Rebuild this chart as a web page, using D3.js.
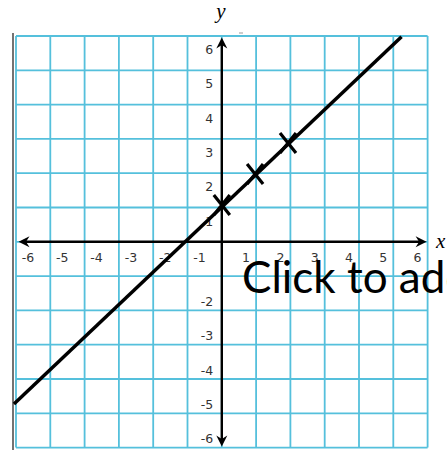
<!DOCTYPE html>
<html>
<head>
<meta charset="utf-8">
<script src="https://cdn.jsdelivr.net/npm/d3@7"></script>
<style>
  html, body { margin: 0; padding: 0; background: #fff; overflow: hidden; }
  svg { display: block; }
</style>
</head>
<body>
<svg id="chart" width="447" height="450"></svg>
<script>
// Grid values and tick labels
const gridValues = [-6, -5, -4, -3, -2, -1, 0, 1, 2, 3, 4, 5, 6];
const xTickValues = [-6, -5, -4, -3, -2, -1, 1, 2, 3, 4, 5, 6];
const yTickValues = [-6, -5, -4, -3, -2, 1, 2, 3, 4, 5, 6];
const xTickLabels = ["-6", "-5", "-4", "-3", "-2", "-1", "1", "2", "3", "4", "5", "6"];
const yTickLabels = ["-6", "-5", "-4", "-3", "-2", "1", "2", "3", "4", "5", "6"];

// Straight line of best fit (end points)
const lineX = [-6.06, 5.24];
const lineY = [-4.73, 5.98];

// Plotted points (marked with crosses)
const pointX = [0, 0.97, 1.93];
const pointY = [1.07, 1.98, 2.88];

const svg = d3.select("#chart");

const x = d3.scaleLinear().domain([-6, 6]).range([16, 427.6]);
const y = d3.scaleLinear().domain([-6, 6]).range([447.6, 36]);

// Slide border on the left
svg.append("line")
  .attr("x1", 13).attr("x2", 13).attr("y1", 33).attr("y2", 450)
  .attr("stroke", "#444").attr("stroke-width", 1.5);

// Grid
const grid = svg.append("g").attr("stroke", "#55c0dc").attr("stroke-width", 1.8);
grid.selectAll("line.v").data(gridValues).join("line").attr("class", "v")
  .attr("x1", d => x(d)).attr("x2", d => x(d))
  .attr("y1", y(6)).attr("y2", y(-6));
grid.selectAll("line.h").data(gridValues).join("line").attr("class", "h")
  .attr("y1", d => y(d)).attr("y2", d => y(d))
  .attr("x1", x(-6)).attr("x2", x(6));

// Small mark above the grid
svg.append("line")
  .attr("x1", 239).attr("x2", 243).attr("y1", 33).attr("y2", 33)
  .attr("stroke", "#999").attr("stroke-width", 1);

// Axes with arrowheads at both ends
const axisG = svg.append("g");
const x0 = x(0), y0 = y(0);
const xl = x(-6) + 2.5, xr = x(6) - 1, yt = y(6) + 1.5, yb = y(-6) - 1;
axisG.append("line").attr("x1", xl + 4).attr("x2", xr - 4).attr("y1", y0).attr("y2", y0)
  .attr("stroke", "#000").attr("stroke-width", 2.4);
axisG.append("line").attr("x1", x0).attr("x2", x0).attr("y1", yt + 4).attr("y2", yb - 4)
  .attr("stroke", "#000").attr("stroke-width", 2.4);

function arrow(tx, ty, angle) {
  // arrowhead pointing along +x, rotated
  axisG.append("path")
    .attr("d", "M0,0 L-11,-5.5 L-7.5,0 L-11,5.5 Z")
    .attr("transform", `translate(${tx},${ty}) rotate(${angle})`)
    .attr("fill", "#000");
}
arrow(xr, y0, 0);
arrow(xl, y0, 180);
arrow(x0, yt, -90);
arrow(x0, yb, 90);

// Tick labels
const labelStyle = sel => sel
  .attr("font-family", "DejaVu Sans, sans-serif")
  .attr("font-size", 12.5)
  .attr("fill", "#333");

svg.append("g").selectAll("text").data(xTickValues).join("text")
  .call(labelStyle)
  .attr("text-anchor", "middle")
  .attr("x", d => x(d) + (d < 0 ? 12 : -10))
  .attr("y", y0 + 20)
  .text((d, i) => xTickLabels[i]);

svg.append("g").selectAll("text").data(yTickValues).join("text")
  .call(labelStyle)
  .attr("text-anchor", "end")
  .attr("x", x0 - 8.5)
  .attr("y", d => y(d) + (d > 0 ? 18 : -4.5))
  .text((d, i) => yTickLabels[i]);

// Axis titles
svg.append("text")
  .attr("x", 221).attr("y", 18)
  .attr("text-anchor", "middle")
  .attr("font-family", "Liberation Serif, serif")
  .attr("font-style", "italic")
  .attr("font-size", 21)
  .attr("fill", "#000")
  .text("y");
svg.append("text")
  .attr("x", 436).attr("y", 248)
  .attr("font-family", "Liberation Serif, serif")
  .attr("font-style", "italic")
  .attr("font-size", 21)
  .attr("fill", "#000")
  .text("x");

// Fitted line
svg.append("line")
  .attr("x1", x(lineX[0])).attr("y1", y(lineY[0]))
  .attr("x2", x(lineX[1])).attr("y2", y(lineY[1]))
  .attr("stroke", "#000").attr("stroke-width", 3.5)
  .attr("stroke-linecap", "butt");

// Cross markers
const points = pointX.map((v, i) => ({ x: v, y: pointY[i] }));
svg.append("g").selectAll("path").data(points).join("path")
  .attr("transform", d => `translate(${x(d.x)},${y(d.y)})`)
  .attr("d", "M-8,-10 L8,10 M8,-10 L-8,10")
  .attr("stroke", "#000").attr("stroke-width", 3.2)
  .attr("fill", "none");

// Placeholder text box
svg.append("text")
  .attr("x", 242).attr("y", 292.5)
  .attr("font-family", "Lato, sans-serif")
  .attr("font-size", 44)
  .attr("fill", "#000")
  .text("Click to add text");
</script>
</body>
</html>
